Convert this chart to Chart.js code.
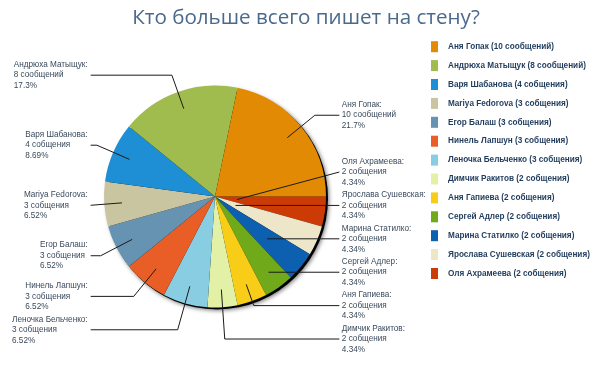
<!DOCTYPE html>
<html><head><meta charset="utf-8">
<script src="https://cdn.jsdelivr.net/npm/chart.js@4"></script>
<style>html,body{margin:0;padding:0;background:#fff;overflow:hidden}#wrap{width:604px;height:378px;position:relative}</style>
</head><body><div id="wrap"><canvas id="c" width="604" height="378"></canvas></div>
<script>
const titleText = 'Кто больше всего пишет на стену?';
const names = ['Аня Гопак','Андрюха Матыщук','Варя Шабанова','Mariya Fedorova','Егор Балаш','Нинель Лапшун','Леночка Бельченко','Димчик Ракитов','Аня Гапиева','Сергей Адлер','Марина Статилко','Ярослава Сушевская','Оля Ахрамеева'];
const messages = [10,8,4,3,3,3,3,2,2,2,2,2,2];
const countText = ['10 сообщений','8 сообщений','4 собщения','3 собщения','3 собщения','3 собщения','3 собщения','2 собщения','2 собщения','2 собщения','2 собщения','2 собщения','2 собщения'];
const colors = ['#E38A04','#A0BB4E','#1E8FD5','#C9C5A0','#6693B2','#E95E26','#88CDE2','#E3F1A6','#F7CD17','#70AA1A','#0D60B0','#EEE6C8','#CC3A06'];

const total = messages.reduce((a,b)=>a+b,0);
function pctText(v){ const p=v/total*100; const d=p>=10?1:2; return (Math.floor(p*Math.pow(10,d))/Math.pow(10,d)).toFixed(d)+'%'; }
// slices run counter-clockwise from 3 o'clock in legend order -> feed reversed, clockwise
const order = names.map((_,i)=>i).reverse();

const LABEL_R=1.16, GAP=33.4, MAXY_R=1.284, LINE_R=1.12, ANCHOR_R=0.84, MIN_R=0.2, LH=10.5;
const labelFont = '8.2px "Liberation Sans", Arial, sans-serif';

const shadowPlugin = {
  id:'pieShadow',
  beforeDatasetsDraw(chart){
    const a=chart.getDatasetMeta(0).data[0]; if(!a) return;
    const ctx=chart.ctx; ctx.save();
    ctx.shadowColor='rgba(0,0,0,0.55)'; ctx.shadowBlur=4; ctx.shadowOffsetX=1; ctx.shadowOffsetY=1;
    ctx.fillStyle='#000'; ctx.beginPath(); ctx.arc(a.x+2,a.y+2,a.outerRadius,0,Math.PI*2); ctx.fill();
    ctx.restore();
  }
};

const calloutPlugin = {
  id:'callouts',
  afterDatasetsDraw(chart){
    const ctx=chart.ctx; const arcs=chart.getDatasetMeta(0).data;
    const cx=arcs[0].x, cy=arcs[0].y, R=arcs[0].outerRadius;
    const items=arcs.map((arc,k)=>{ const mid=(arc.startAngle+arc.endAngle)/2; return {i:order[k], mid, right:Math.cos(mid)>=-1e-9, y:cy+LABEL_R*R*Math.sin(mid)}; });
    [true,false].forEach(side=>{
      const g=items.filter(o=>o.right===side).sort((a,b)=>a.y-b.y);
      for(let k=1;k<g.length;k++) if(g[k].y<g[k-1].y+GAP) g[k].y=g[k-1].y+GAP;
      const maxY=cy+MAXY_R*R;
      if(g.length && g[g.length-1].y>maxY){ g[g.length-1].y=maxY; for(let k=g.length-2;k>=0;k--) if(g[k].y>g[k+1].y-GAP) g[k].y=g[k+1].y-GAP; }
    });
    ctx.save();
    items.forEach(o=>{
      const dir=o.right?1:-1; const lx=cx+dir*LINE_R*R;
      const c=Math.cos(o.mid), s=Math.sin(o.mid);
      const t=Math.abs(s)>1e-6?(o.y-cy)/s:-1;
      const pts=[[lx,o.y]]; let ra;
      if(t<=0) ra=MIN_R*R;
      else if(Math.abs(t*c)>=LINE_R*R) ra=ANCHOR_R*R;
      else if(t>ANCHOR_R*R){ pts.push([cx+t*c,o.y]); ra=ANCHOR_R*R; }
      else ra=t;
      pts.push([cx+ra*c, cy+ra*s]);
      ctx.strokeStyle='#1a1a1a'; ctx.lineWidth=1; ctx.beginPath();
      pts.forEach((p,k)=>k?ctx.lineTo(p[0],p[1]):ctx.moveTo(p[0],p[1])); ctx.stroke();
      const lines=[names[o.i]+':', countText[o.i], pctText(messages[o.i])];
      ctx.font=labelFont; ctx.fillStyle='#3A4A5C'; ctx.textBaseline='middle'; ctx.textAlign='left';
      let tx;
      if(o.right) tx=lx+2.5; else { const w=Math.max(...lines.map(l=>ctx.measureText(l).width)); tx=lx-3-w; }
      lines.forEach((l,k)=>ctx.fillText(l,tx,o.y+(k-1)*LH));
    });
    ctx.restore();
  }
};

const decorPlugin = {
  id:'decor',
  afterDraw(chart){
    const ctx=chart.ctx; ctx.save();
    ctx.font='20.6px "Open Sans", sans-serif'; ctx.fillStyle='#4A6A8C'; ctx.textAlign='center'; ctx.textBaseline='alphabetic';
    ctx.fillText(titleText,306,23.5);
    ctx.font='bold 8.2px "Liberation Sans", Arial, sans-serif'; ctx.textAlign='left'; ctx.textBaseline='middle';
    names.forEach((n,i)=>{
      const y=46.7+i*18.9;
      ctx.fillStyle=colors[i]; ctx.fillRect(431,y-5.5,7,11);
      ctx.fillStyle='#1F3B5C'; ctx.fillText(n+' ('+countText[i]+')',448,y);
    });
    ctx.restore();
  }
};

new Chart(document.getElementById('c'),{
  type:'pie',
  data:{labels:order.map(i=>names[i]),datasets:[{data:order.map(i=>messages[i]),backgroundColor:order.map(i=>colors[i]),borderWidth:0}]},
  options:{responsive:false,animation:false,rotation:90,layout:{padding:{left:104,right:278,top:85.5,bottom:70.5}},
    plugins:{legend:{display:false},tooltip:{enabled:false},title:{display:false}}},
  plugins:[shadowPlugin,calloutPlugin,decorPlugin]
});
</script></body></html>
